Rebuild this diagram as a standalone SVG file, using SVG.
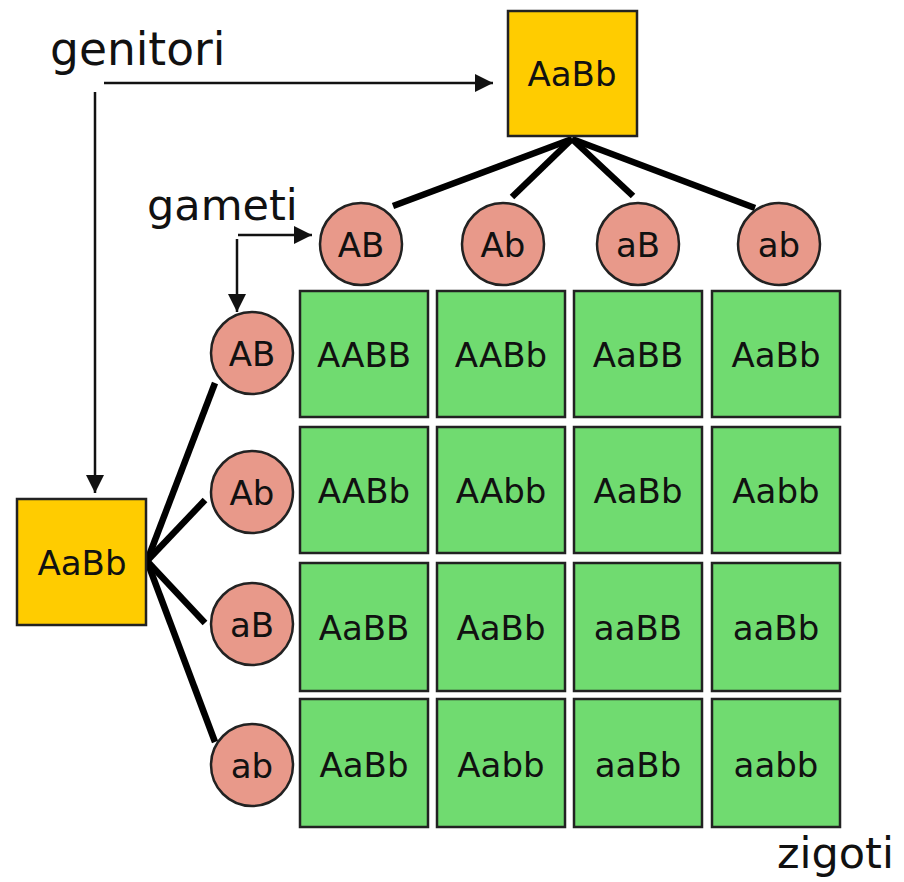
<svg xmlns="http://www.w3.org/2000/svg" width="904" height="882" viewBox="0 0 904 882">
<style>
.lbl{font-family:"DejaVu Sans",sans-serif;font-size:43px;fill:#111}
.par rect{fill:#FFCC00;stroke:#222;stroke-width:2.5}
.gam circle{fill:#E8998A;stroke:#222;stroke-width:2.5}
.zig rect{fill:#70DB70;stroke:#222;stroke-width:2.5}
.t{font-family:"DejaVu Sans",sans-serif;font-size:34px;fill:#111;text-anchor:middle}
.thin{stroke:#111;stroke-width:2.5;fill:none}
.thick{stroke:#000;stroke-width:6.5;fill:none}
</style>
<defs>
<marker id="arr" viewBox="0 0 18 18" refX="18" refY="9" markerWidth="18" markerHeight="18" markerUnits="userSpaceOnUse" orient="auto">
<path d="M0,0 L18,9 L0,18 z" fill="#111"/>
</marker>
</defs>
<rect width="904" height="882" fill="#fff"/>
<g id="labels">
<text class="lbl" x="50" y="65" style="font-size:45.5px">genitori</text>
<text class="lbl" x="147" y="220">gameti</text>
<text class="lbl" x="777" y="868">zigoti</text>
</g>
<g id="connectors">
<line class="thin" x1="104" y1="83" x2="493" y2="83" marker-end="url(#arr)"/>
<line class="thin" x1="95" y1="92" x2="95" y2="493" marker-end="url(#arr)"/>
<line class="thin" x1="238" y1="235" x2="312" y2="235" marker-end="url(#arr)"/>
<line class="thin" x1="237" y1="239" x2="237" y2="312" marker-end="url(#arr)"/>
<line class="thick" x1="572" y1="139" x2="393" y2="206"/>
<line class="thick" x1="572" y1="139" x2="512" y2="197"/>
<line class="thick" x1="572" y1="139" x2="633" y2="196"/>
<line class="thick" x1="572" y1="139" x2="755" y2="208"/>
<line class="thick" x1="147" y1="561" x2="215" y2="383"/>
<line class="thick" x1="147" y1="561" x2="205" y2="500"/>
<line class="thick" x1="147" y1="561" x2="205" y2="623"/>
<line class="thick" x1="147" y1="561" x2="215" y2="742"/>
</g>
<g id="parent-top" class="par"><rect x="508" y="11" width="129" height="125"/><text class="t" x="572" y="86">AaBb</text></g>
<g id="parent-left" class="par"><rect x="17" y="499" width="129" height="126"/><text class="t" x="82" y="575">AaBb</text></g>
<g id="gamete-top-AB" class="gam"><circle cx="361" cy="244" r="41"/><text class="t" x="361" y="257">AB</text></g>
<g id="gamete-top-Ab" class="gam"><circle cx="503" cy="244" r="41"/><text class="t" x="503" y="257">Ab</text></g>
<g id="gamete-top-aB" class="gam"><circle cx="638" cy="244" r="41"/><text class="t" x="638" y="257">aB</text></g>
<g id="gamete-top-ab" class="gam"><circle cx="779" cy="244" r="41"/><text class="t" x="779" y="257">ab</text></g>
<g id="gamete-left-AB" class="gam"><circle cx="252" cy="353" r="41"/><text class="t" x="252" y="366">AB</text></g>
<g id="gamete-left-Ab" class="gam"><circle cx="252" cy="492" r="41"/><text class="t" x="252" y="505">Ab</text></g>
<g id="gamete-left-aB" class="gam"><circle cx="252" cy="624" r="41"/><text class="t" x="252" y="637">aB</text></g>
<g id="gamete-left-ab" class="gam"><circle cx="252" cy="765" r="41"/><text class="t" x="252" y="778">ab</text></g>
<g id="z11" class="zig"><rect x="300" y="291" width="128" height="126"/><text class="t" x="364" y="367">AABB</text></g>
<g id="z12" class="zig"><rect x="437" y="291" width="128" height="126"/><text class="t" x="501" y="367">AABb</text></g>
<g id="z13" class="zig"><rect x="574" y="291" width="128" height="126"/><text class="t" x="638" y="367">AaBB</text></g>
<g id="z14" class="zig"><rect x="712" y="291" width="128" height="126"/><text class="t" x="776" y="367">AaBb</text></g>
<g id="z21" class="zig"><rect x="300" y="427" width="128" height="126"/><text class="t" x="364" y="503">AABb</text></g>
<g id="z22" class="zig"><rect x="437" y="427" width="128" height="126"/><text class="t" x="501" y="503">AAbb</text></g>
<g id="z23" class="zig"><rect x="574" y="427" width="128" height="126"/><text class="t" x="638" y="503">AaBb</text></g>
<g id="z24" class="zig"><rect x="712" y="427" width="128" height="126"/><text class="t" x="776" y="503">Aabb</text></g>
<g id="z31" class="zig"><rect x="300" y="563" width="128" height="128"/><text class="t" x="364" y="640">AaBB</text></g>
<g id="z32" class="zig"><rect x="437" y="563" width="128" height="128"/><text class="t" x="501" y="640">AaBb</text></g>
<g id="z33" class="zig"><rect x="574" y="563" width="128" height="128"/><text class="t" x="638" y="640">aaBB</text></g>
<g id="z34" class="zig"><rect x="712" y="563" width="128" height="128"/><text class="t" x="776" y="640">aaBb</text></g>
<g id="z41" class="zig"><rect x="300" y="699" width="128" height="128"/><text class="t" x="364" y="777">AaBb</text></g>
<g id="z42" class="zig"><rect x="437" y="699" width="128" height="128"/><text class="t" x="501" y="777">Aabb</text></g>
<g id="z43" class="zig"><rect x="574" y="699" width="128" height="128"/><text class="t" x="638" y="777">aaBb</text></g>
<g id="z44" class="zig"><rect x="712" y="699" width="128" height="128"/><text class="t" x="776" y="777">aabb</text></g>
</svg>
